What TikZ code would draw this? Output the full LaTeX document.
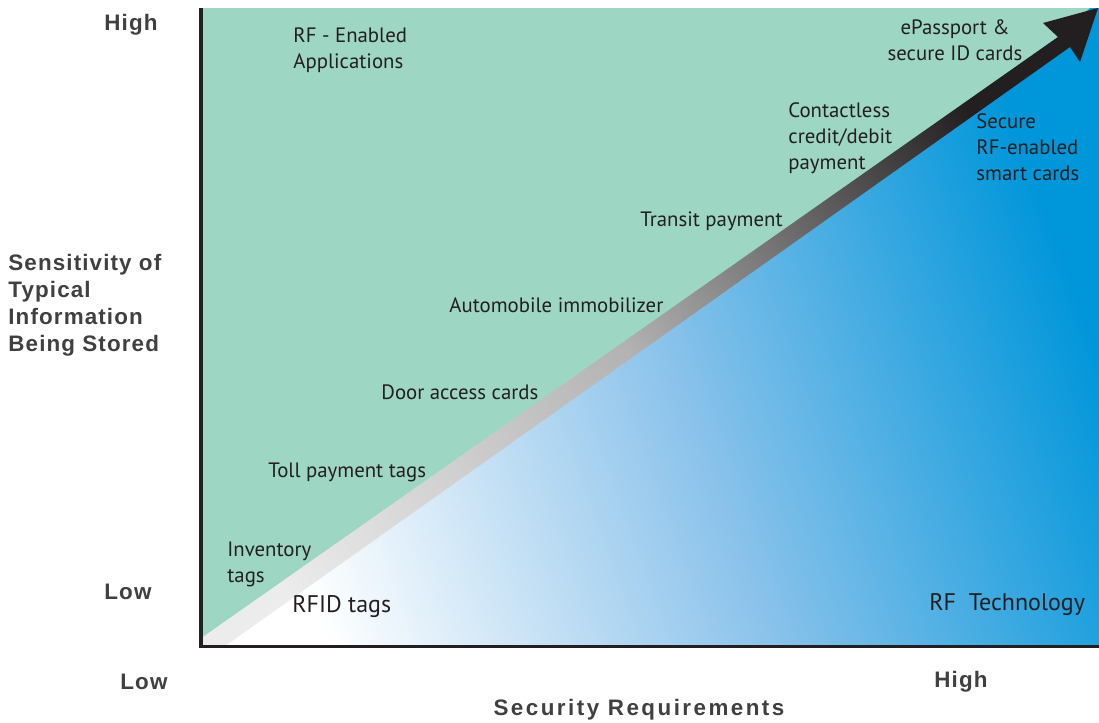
\documentclass[tikz,border=0pt]{standalone}
\usepackage{fontspec}
\setmainfont{PT Sans}
\newfontfamily\axisfont[LetterSpace=5]{Liberation Sans}
\newfontfamily\axistitlefont[LetterSpace=11]{Liberation Sans}
\usetikzlibrary{positioning}

\definecolor{rfgreen}{RGB}{157,214,194}
\definecolor{rfblue}{RGB}{0,150,218}
\definecolor{rfmid}{RGB}{140,195,235}
\definecolor{rfdark}{RGB}{35,31,32}
\definecolor{axgray}{RGB}{64,64,64}

\begin{document}
\begin{tikzpicture}[x=0.5pt, y=-0.5pt,
    LBL/.style={anchor=west, align=left, inner sep=0pt, font=\fontsize{10.4}{13}\selectfont, text=rfdark},
    BIG/.style={LBL, font=\fontsize{12}{15}\selectfont},
    AXL/.style={anchor=west, align=left, inner sep=0pt, font=\axisfont\bfseries\fontsize{11.2}{13.5}\selectfont, text=axgray}]

    \useasboundingbox (0,0) rectangle (1099,723);

    % plot area, white to blue
    \shade[top color=rfblue, bottom color=white, middle color=rfmid, shading angle=-70]
        (203,8) rectangle (1099,646);

    \begin{scope}
        \clip (203,0) rectangle (1099,646);
        % applications side
        \fill[rfgreen] (203,8) -- (1090,8) -- (1058,37) -- (150,674.2) -- (150,8) -- cycle;
        % the big arrow
        \shade[top color=rfdark, bottom color=gray!15, middle color=gray!60, shading angle=-54.5]
            (150,674.2) -- (1058,37) -- (1043,23) -- (1098,8)
            -- (1080,62) -- (1070,47) -- (170,685) -- cycle;
    \end{scope}

    % axes
    \draw[rfdark, line width=1.75pt] (201,8) -- (201,648);
    \draw[rfdark, line width=1.75pt] (199,646.5) -- (1099,646.5);

    % axis labels
    \node[AXL] (yhigh) at (104,25) {High};
    \node[AXL] (ylow) at (104,592) {Low};
    \node[AXL] (ytitle) at (8,305) {Sensitivity of\\Typical\\Information\\Being Stored};
    \node[AXL] (xlow) at (120,682) {Low};
    \node[AXL] (xhigh) at (934,682) {High};
    \node[AXL, anchor=center, font=\axistitlefont\bfseries\fontsize{11.2}{13.5}\selectfont] (xtitle) at (639,710) {Security Requirements};

    % applications
    \node[LBL] (apps) at (293,50.5) {RF - Enabled\\Applications};
    \node[LBL, anchor=center, align=center] (epass) at (955,40.5) {ePassport \&\\secure ID cards};
    \node[LBL] (contactless) at (788,138) {Contactless\\credit/debit\\payment};
    \node[LBL] (transit) at (640,221) {Transit payment};
    \node[LBL] (immob) at (449,305) {Automobile immobilizer};
    \node[LBL] (door) at (381,392) {Door access cards};
    \node[LBL] (toll) at (268,472) {Toll payment tags};
    \node[LBL] (inventory) at (227,564) {Inventory\\tags};

    % technology
    \node[LBL] (secure) at (976,147.5) {Secure\\RF-enabled\\smart cards};
    \node[BIG] (rfid) at (292,607) {RFID tags};
    \node[BIG] (rftech) at (929,605) {RF\ \ Technology};
\end{tikzpicture}
\end{document}
